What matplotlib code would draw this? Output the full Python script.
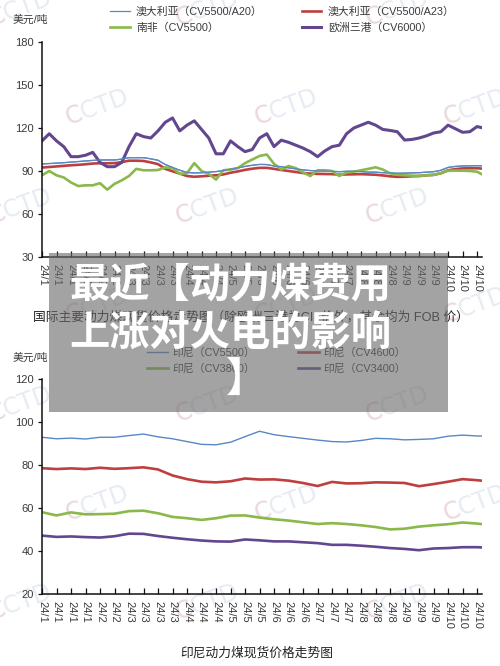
import numpy as np
import pandas as pd
import matplotlib
matplotlib.use("Agg")
import matplotlib.pyplot as plt
from matplotlib.patches import Rectangle

plt.rcParams["font.family"] = ["Liberation Sans", "Noto Sans CJK SC"]

W, H = 500, 666

# ---- data ---------------------------------------------------------------
top_dates = list(pd.date_range("2024-01-01", "2024-10-27", freq="5D")) + [pd.Timestamp("2024-10-30")]
bot_dates = list(pd.date_range("2024-01-01", "2024-10-27", freq="10D")) + [pd.Timestamp("2024-10-30")]

tick_dates = pd.date_range("2024-01-01", periods=31, freq="10D")
tick_labels = [f"{d:%y}/{d.month}" for d in tick_dates]

# 国际主要动力煤 (USD/t)
aus_a20 = [94.9, 95.2, 95.5, 95.8, 96.2, 96.6, 97.0, 97.4, 97.7, 97.7, 97.7, 98.3, 99.3, 99.3, 99.3, 98.5,
           97.5, 94.5, 92.5, 90.5, 89.0, 88.6, 88.8, 89.2, 89.6, 90.3, 91.3, 92.2, 93.2, 94.0, 94.6, 94.5,
           93.5, 93.0, 92.2, 91.5, 90.8, 90.3, 90.0, 90.0, 89.8, 89.5, 89.8, 89.8, 89.6, 89.2, 89.2, 88.8,
           88.6, 88.4, 88.5, 88.7, 88.8, 89.2, 89.5, 90.5, 92.5, 93.2, 93.5, 93.6, 93.7, 93.6]
aus_a23 = [92.4, 92.8, 93.2, 93.6, 94.0, 94.3, 94.7, 95.2, 95.4, 95.4, 95.5, 96.2, 97.2, 97.2, 97.0, 96.0,
           94.8, 91.5, 89.8, 88.2, 86.5, 86.0, 86.3, 86.7, 87.0, 87.6, 88.8, 89.7, 90.8, 91.6, 92.2, 92.2,
           91.5, 90.7, 90.0, 89.3, 88.6, 88.2, 88.0, 87.9, 87.8, 87.4, 87.6, 87.7, 87.8, 87.6, 87.4, 86.9,
           86.3, 85.9, 86.0, 86.3, 86.5, 87.0, 87.3, 88.4, 90.5, 91.3, 91.8, 91.9, 91.9, 91.7]
south_africa = [87.0, 90.0, 87.0, 85.5, 82.0, 79.5, 80.0, 80.0, 81.5, 77.0, 81.0, 83.5, 86.5, 91.5, 90.5, 90.5,
                90.7, 92.5, 92.0, 88.0, 88.5, 95.5, 90.0, 88.0, 84.0, 90.5, 91.0, 92.0, 95.5, 98.0, 100.5, 101.5,
                95.0, 91.0, 93.5, 92.0, 89.0, 86.5, 90.5, 90.5, 90.0, 86.5, 89.0, 89.5, 90.5, 91.5, 92.6, 91.0,
                88.4, 87.4, 87.0, 86.8, 86.5, 87.0, 87.3, 88.5, 90.2, 90.3, 90.2, 90.0, 89.5, 87.9]
ara_cif = [111, 116, 111, 107, 100, 100, 101, 103, 96, 93, 93, 96, 107, 116, 114, 113,
           118, 124, 127, 118, 122, 125, 119, 113, 102, 102, 111, 107, 103.5, 105, 113, 116,
           107, 111.5, 110, 108, 106, 103.5, 100, 104, 107, 108, 116, 120, 122, 124, 122, 119,
           118.3, 117.4, 111.6, 112, 113, 114.5, 116.5, 117.4, 122, 119.5, 117, 117.4, 121, 120.3]

# 印尼动力煤 (USD/t)
indo_5500 = [93.0, 92.3, 92.6, 92.2, 93.0, 93.0, 93.8, 94.5, 93.2, 92.3, 91.0, 89.7, 89.5, 90.7, 93.3, 95.8,
             94.2, 93.3, 92.5, 91.7, 91.0, 90.8, 91.5, 92.5, 92.3, 91.8, 92.0, 92.3, 93.5, 94.0, 93.6, 93.6]
indo_4600 = [78.6, 78.2, 78.5, 78.2, 78.8, 78.3, 78.6, 79.0, 78.0, 75.2, 73.5, 72.3, 72.0, 72.5, 73.8, 73.3,
             73.4, 72.8, 71.7, 70.3, 72.2, 71.5, 71.6, 72.0, 71.9, 71.7, 70.2, 71.2, 72.3, 73.5, 73.0, 72.8]
indo_3800 = [58.1, 56.6, 58.0, 57.1, 57.2, 57.4, 58.6, 58.8, 57.6, 55.9, 55.3, 54.5, 55.3, 56.5, 56.6, 55.6,
             54.8, 54.2, 53.4, 52.6, 53.0, 52.6, 52.0, 51.2, 50.1, 50.4, 51.4, 52.0, 52.5, 53.3, 52.8, 52.6]
indo_3400 = [47.2, 46.6, 46.8, 46.5, 46.3, 46.9, 48.1, 48.0, 47.0, 46.2, 45.5, 44.9, 44.5, 44.4, 45.4, 45.0,
             44.5, 44.5, 44.1, 43.7, 42.9, 42.9, 42.5, 42.0, 41.4, 41.0, 40.4, 41.2, 41.4, 41.8, 41.8, 41.7]

BLUE, RED, GREEN, PURPLE = "#5a87c5", "#bf3f3f", "#8ab84a", "#62478f"
TXT = "#3a3a3a"


def fx(x):
    return x / W


def fy(y):
    return 1 - y / H


fig = plt.figure(figsize=(W / 100, H / 100), dpi=100)
fig.patch.set_facecolor("white")

# faint CCTD watermarks on a staggered grid (left-anchored so the red "C" overlays the first letter)
for row, yy in enumerate(range(8, 666, 99)):
    xs = (20, 207, 397) if row % 2 == 0 else (97, 286, 475)
    for xx in xs:
        kw = dict(fontsize=17, rotation=20, rotation_mode="anchor", ha="left", va="center",
                  zorder=-1, family="DejaVu Sans")
        x0, y0 = fx(xx - 31), fy(yy + 11)
        fig.text(x0, y0, "CCTD", color="#d3dbe8", alpha=0.55, **kw)
        fig.text(x0, y0, "C", color="#f2c8c8", alpha=0.5, **kw)


def style_axes(ax, ylim, yticks):
    ax.set_facecolor("none")
    ax.set_xlim(pd.Timestamp("2024-01-01"), pd.Timestamp("2024-01-01") + pd.Timedelta(days=303.4))
    ax.set_ylim(*ylim)
    ax.set_yticks(yticks)
    ax.set_xticks(tick_dates)
    ax.set_xticklabels(tick_labels, rotation=-90, ha="center", va="top")
    for s in ("top", "right"):
        ax.spines[s].set_visible(False)
    for s in ("left", "bottom"):
        ax.spines[s].set_color("#111111")
        ax.spines[s].set_linewidth(1.1)
    ax.tick_params(axis="x", direction="in", length=4, width=0.9, colors="#111111",
                   labelcolor=TXT, labelsize=8, pad=5)
    ax.tick_params(axis="y", direction="out", length=3, width=0.9, colors="#111111",
                   labelcolor=TXT, labelsize=8, pad=3)


# ---- top chart ------------------------------------------------------------
ax1 = fig.add_axes([fx(42), fy(257), fx(440), 215 / H])
l1, = ax1.plot(top_dates, aus_a20, color=BLUE, lw=0.9, label="澳大利亚（CV5500/A20）")
l2, = ax1.plot(top_dates, aus_a23, color=RED, lw=1.9, label="澳大利亚（CV5500/A23）")
l3, = ax1.plot(top_dates, south_africa, color=GREEN, lw=1.9, label="南非（CV5500）")
l4, = ax1.plot(top_dates, ara_cif, color=PURPLE, lw=2.2, label="欧洲三港（CV6000）")
ax1.plot(top_dates, aus_a20, color=BLUE, lw=0.9)
style_axes(ax1, (30, 180), [30, 60, 90, 120, 150, 180])
ax1.legend(handles=[l1, l3, l2, l4], ncol=2, loc="upper left",
           bbox_to_anchor=(fx(110), fy(6)), bbox_transform=fig.transFigure,
           frameon=False, borderaxespad=0, borderpad=0, handlelength=1.8,
           handletextpad=0.6, columnspacing=3.6, labelspacing=0.55, fontsize=7.8,
           labelcolor=TXT)
fig.text(fx(13), fy(20), "美元/吨", fontsize=7.8, color=TXT, va="center", ha="left")

# ---- bottom chart ---------------------------------------------------------
ax2 = fig.add_axes([fx(42), fy(594), fx(440), 214.7 / H])
m1, = ax2.plot(bot_dates, indo_5500, color=BLUE, lw=1.0, label="印尼（CV5500）")
m2, = ax2.plot(bot_dates, indo_4600, color=RED, lw=1.9, label="印尼（CV4600）")
m3, = ax2.plot(bot_dates, indo_3800, color=GREEN, lw=1.9, label="印尼（CV3800）")
m4, = ax2.plot(bot_dates, indo_3400, color=PURPLE, lw=1.9, label="印尼（CV3400）")
style_axes(ax2, (20, 120), [20, 40, 60, 80, 100, 120])
ax2.legend(handles=[m1, m3, m2, m4], ncol=2, loc="upper left",
           bbox_to_anchor=(fx(147), fy(347)), bbox_transform=fig.transFigure,
           frameon=False, borderaxespad=0, borderpad=0, handlelength=1.9,
           handletextpad=0.4, columnspacing=4.0, labelspacing=0.55, fontsize=7.8,
           labelcolor=TXT)
fig.text(fx(13), fy(358), "美元/吨", fontsize=7.8, color=TXT, va="center", ha="left")

# captions
fig.text(fx(251), fy(317), "国际主要动力煤现货价格走势图（除欧洲三港为CIF价外，其余均为 FOB 价）",
         fontsize=9.2, color="#222222", ha="center", va="center", zorder=0.5)
fig.text(fx(257), fy(653), "印尼动力煤现货价格走势图", fontsize=9.2, color="#222222",
         ha="center", va="center")

# grey overlay with headline
fig.patches.append(Rectangle((fx(49), fy(412)), fx(399), 159 / H, transform=fig.transFigure,
                             facecolor="#6b6b6b", alpha=0.62, edgecolor="none", zorder=1))
for txt, xx, yy in (("最近【动力煤费用", 230, 285), ("上涨对火电的影响", 230, 333), ("】", 246, 380)):
    fig.text(fx(xx), fy(yy), txt, fontsize=29, color="white", fontweight="bold",
             family=["Noto Sans CJK SC"], ha="center", va="center", zorder=5)

fig.savefig("out.png", dpi=100)
